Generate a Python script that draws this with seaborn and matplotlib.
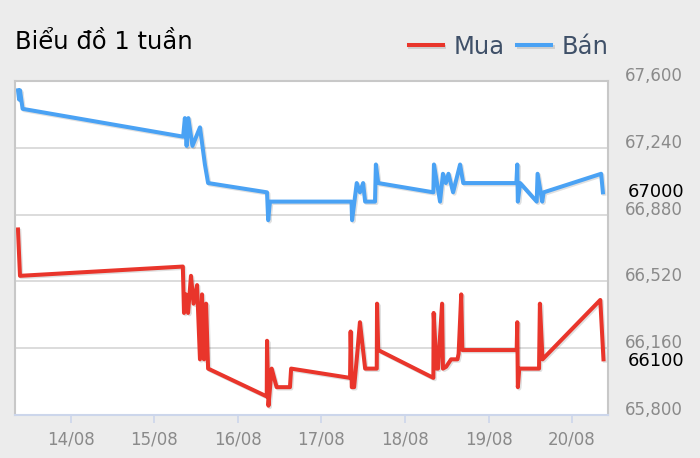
import numpy as np
import pandas as pd
import matplotlib
matplotlib.use("Agg")
import matplotlib.pyplot as plt
import matplotlib.dates as mdates
import matplotlib.patheffects as pe
from matplotlib.ticker import FuncFormatter
import seaborn as sns

# ----------------------------
# DATA - gia vang 1 tuan
# ----------------------------

ban_time = [
    "2024-08-13 08:55", "2024-08-13 09:15", "2024-08-13 09:30", "2024-08-13 10:15",
    "2024-08-15 08:20", "2024-08-15 08:50", "2024-08-15 09:20", "2024-08-15 09:50",
    "2024-08-15 11:00", "2024-08-15 13:10", "2024-08-15 14:35", "2024-08-15 15:30",
    "2024-08-16 08:25", "2024-08-16 08:45", "2024-08-16 09:15",
    "2024-08-17 08:40", "2024-08-17 08:50", "2024-08-17 10:10", "2024-08-17 11:05",
    "2024-08-17 12:00", "2024-08-17 12:35", "2024-08-17 15:25", "2024-08-17 15:40",
    "2024-08-17 16:20",
    "2024-08-18 08:10", "2024-08-18 08:20", "2024-08-18 10:05", "2024-08-18 10:55",
    "2024-08-18 11:45", "2024-08-18 12:30", "2024-08-18 13:50", "2024-08-18 15:50",
    "2024-08-18 16:45",
    "2024-08-19 08:00", "2024-08-19 08:15", "2024-08-19 08:25", "2024-08-19 09:05",
    "2024-08-19 13:50", "2024-08-19 14:05", "2024-08-19 15:25", "2024-08-19 15:50",
    "2024-08-20 08:20", "2024-08-20 08:50",
]
ban_value = [
    67550, 67500, 67550, 67450,
    67300, 67400, 67250, 67400,
    67250, 67350, 67150, 67050,
    67000, 66850, 66950,
    66950, 66850, 67050, 67000,
    67050, 66950, 66950, 67150,
    67050,
    67000, 67150, 66950, 67100,
    67050, 67100, 67000, 67150,
    67050,
    67050, 67150, 66950, 67050,
    66950, 67100, 66950, 67000,
    67100, 67000,
]

mua_time = [
    "2024-08-13 08:55", "2024-08-13 09:30",
    "2024-08-15 08:15", "2024-08-15 08:35", "2024-08-15 09:10", "2024-08-15 09:45",
    "2024-08-15 10:35", "2024-08-15 11:20", "2024-08-15 12:20", "2024-08-15 13:10",
    "2024-08-15 13:45", "2024-08-15 14:20", "2024-08-15 14:55", "2024-08-15 15:30",
    "2024-08-16 08:20", "2024-08-16 08:25", "2024-08-16 08:50", "2024-08-16 09:45",
    "2024-08-16 11:10", "2024-08-16 15:00", "2024-08-16 15:20",
    "2024-08-17 08:15", "2024-08-17 08:25", "2024-08-17 08:45", "2024-08-17 09:25",
    "2024-08-17 10:10", "2024-08-17 11:05", "2024-08-17 12:35", "2024-08-17 15:55",
    "2024-08-17 16:00", "2024-08-17 16:20",
    "2024-08-18 08:10", "2024-08-18 08:15", "2024-08-18 09:05", "2024-08-18 09:30",
    "2024-08-18 10:40", "2024-08-18 10:55", "2024-08-18 11:50", "2024-08-18 13:15",
    "2024-08-18 15:05", "2024-08-18 15:25", "2024-08-18 16:10", "2024-08-18 16:30",
    "2024-08-19 08:05", "2024-08-19 08:15", "2024-08-19 08:25", "2024-08-19 08:50",
    "2024-08-19 14:30", "2024-08-19 14:45", "2024-08-19 15:30",
    "2024-08-20 08:05", "2024-08-20 09:00",
]
mua_value = [
    66800, 66550,
    66600, 66350, 66450, 66350,
    66550, 66400, 66500, 66100,
    66450, 66100, 66400, 66050,
    65900, 66200, 65850, 66050,
    65950, 65950, 66050,
    66000, 66250, 65950, 65950,
    66100, 66300, 66050, 66050,
    66400, 66150,
    66000, 66350, 66050, 66050,
    66400, 66050, 66060, 66100,
    66100, 66130, 66450, 66150,
    66150, 66300, 65950, 66050,
    66050, 66400, 66100,
    66420, 66100,
]

day_ticks = ["2024-08-14", "2024-08-15", "2024-08-16", "2024-08-17",
             "2024-08-18", "2024-08-19", "2024-08-20"]
y_ticks = [65800, 66160, 66520, 66880, 67240, 67600]

mua_df = pd.DataFrame({"time": pd.to_datetime(mua_time), "price": mua_value})
ban_df = pd.DataFrame({"time": pd.to_datetime(ban_time), "price": ban_value})

red = "#e9352b"
blue = "#4aa2f4"
bg = "#ececec"

plt.rcParams["font.family"] = ["DejaVu Sans"]

fig = plt.figure(figsize=(7, 4.58), dpi=100, facecolor=bg)
ax = fig.add_axes([15 / 700, 43 / 458, 593 / 700, 334 / 458])
ax.set_facecolor("white")

shadow = [pe.SimpleLineShadow(offset=(1, -1), alpha=0.12, shadow_color="black"),
          pe.Normal()]

sns.lineplot(data=mua_df, x="time", y="price", ax=ax, color=red, linewidth=2.9,
             estimator=None, sort=False, label="Mua", path_effects=shadow)
sns.lineplot(data=ban_df, x="time", y="price", ax=ax, color=blue, linewidth=2.9,
             estimator=None, sort=False, label="Bán", path_effects=shadow)

ax.set_xlim(pd.Timestamp("2024-08-13 08:04"), pd.Timestamp("2024-08-20 10:18"))
ax.set_ylim(65800, 67600)

ax.set_xticks(pd.to_datetime(day_ticks))
ax.xaxis.set_major_formatter(mdates.DateFormatter("%d/%m"))
ax.set_yticks(y_ticks)
ax.yaxis.set_major_formatter(FuncFormatter(lambda v, p: f"{int(v):,}"))
ax.yaxis.tick_right()

ax.grid(axis="y", color="#dcdcdc", linewidth=1.4)
ax.grid(axis="x", visible=False)
ax.set_axisbelow(True)

ax.tick_params(axis="y", length=0, pad=12, labelsize=12, labelcolor="#8a8a8a")
ax.tick_params(axis="x", length=6, width=1.2, color="#ccd6eb", pad=5,
               labelsize=12, labelcolor="#8a8a8a")
for lab in ax.get_yticklabels():
    lab.set_verticalalignment("baseline")

for side in ["left", "top", "right"]:
    ax.spines[side].set_color("#c8c8c8")
    ax.spines[side].set_linewidth(1.5)
ax.spines["bottom"].set_color("#ccd6eb")
ax.spines["bottom"].set_linewidth(1.5)

ax.set_xlabel("")
ax.set_ylabel("")

# last values on the right
ax.annotate("67000", xy=(1.0, 67000), xycoords=("axes fraction", "data"),
            xytext=(14, 0), textcoords="offset points", ha="left", va="center",
            fontsize=13, color="black", annotation_clip=False)
ax.annotate("66100", xy=(1.0, 66100), xycoords=("axes fraction", "data"),
            xytext=(14, -1.5), textcoords="offset points", ha="left", va="center",
            fontsize=13, color="black", annotation_clip=False)

ax.legend_.remove()
handles, labels = ax.get_legend_handles_labels()
fig.legend(handles, labels, ncol=2, frameon=False, loc="center right",
           bbox_to_anchor=(609 / 700, 1 - 47 / 458), fontsize=17.5,
           handlelength=1.4, handletextpad=0.45, columnspacing=0.5,
           borderpad=0, borderaxespad=0, labelcolor="#3f5068")

fig.text(15 / 700, 1 - 42 / 458, "Biểu đồ 1 tuần", ha="left", va="center",
         fontsize=17.5, color="black")

fig.savefig("out.png", dpi=100, facecolor=bg)
